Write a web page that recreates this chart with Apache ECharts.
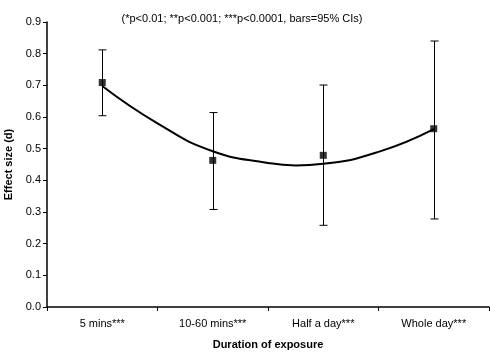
<!DOCTYPE html>
<html>
<head>
<meta charset="utf-8">
<script src="https://cdn.jsdelivr.net/npm/echarts@6/dist/echarts.min.js"></script>
<style>html,body{margin:0;padding:0;background:#fff}#c{width:490px;height:357px}</style>
</head>
<body>
<div id="c"></div>
<script>
var categories = ['5 mins***', '10-60 mins***', 'Half a day***', 'Whole day***'];
var effect = [0.709, 0.463, 0.479, 0.563];
var ciLow = [0.604, 0.308, 0.258, 0.278];
var ciHigh = [0.812, 0.614, 0.701, 0.840];
var trendX = [0, 0.5, 1, 1.5, 1.75, 2, 2.5, 3];
var trendY = [0.698, 0.580, 0.492, 0.455, 0.447, 0.452, 0.490, 0.562];
var yTicks = ['0.0','0.1','0.2','0.3','0.4','0.5','0.6','0.7','0.8','0.9'];
var titleText = '(*p<0.01; **p<0.001; ***p<0.0001, bars=95% CIs)';

var font = 'Liberation Sans, Arial, sans-serif';
var chart = echarts.init(document.getElementById('c'));
chart.setOption({
  animation: false,
  backgroundColor: '#fff',
  title: {
    text: titleText, left: 237, top: 8, textAlign: 'center',
    textStyle: {fontFamily: font, fontSize: 11, fontWeight: 'normal', color: '#000'}
  },
  grid: {left: 47, right: 1, top: 22, bottom: 50, containLabel: false, outerBoundsMode: 'none'},
  xAxis: [{
    type: 'category', data: categories, boundaryGap: true,
    axisLine: {lineStyle: {color: '#000', width: 1.5}},
    axisTick: {show: true, length: 4, lineStyle: {color: '#000'}},
    axisLabel: {fontFamily: font, fontSize: 11, color: '#000', margin: 11},
    name: 'Duration of exposure', nameLocation: 'middle', nameGap: 32,
    nameTextStyle: {fontFamily: font, fontSize: 11, fontWeight: 'bold', color: '#000'}
  }, {
    type: 'value', min: -0.5, max: 3.5, show: false
  }],
  yAxis: {
    type: 'value', min: 0, max: 0.9, interval: 0.1,
    splitLine: {show: false},
    axisLine: {show: true, onZero: false, lineStyle: {color: '#000', width: 1.5}},
    axisTick: {show: true, length: 4, lineStyle: {color: '#000'}},
    axisLabel: {fontFamily: font, fontSize: 11, color: '#000', margin: 6,
      formatter: function (v) { return yTicks[Math.round(v * 10)]; }},
    name: 'Effect size (d)', nameLocation: 'middle', nameGap: 31, nameRotate: 90,
    nameTextStyle: {fontFamily: font, fontSize: 11, fontWeight: 'bold', color: '#000'}
  },
  series: [{
    type: 'line', xAxisIndex: 1, smooth: true, symbol: 'none',
    lineStyle: {color: '#000', width: 2},
    data: trendX.map(function (x, i) { return [x, trendY[i]]; }),
    z: 2
  }, {
    type: 'custom', xAxisIndex: 0,
    data: categories.map(function (c, i) { return [i, ciLow[i], ciHigh[i]]; }),
    renderItem: function (params, api) {
      var lo = api.coord([api.value(0), api.value(1)]);
      var hi = api.coord([api.value(0), api.value(2)]);
      var x = Math.round(lo[0]) + 0.5;
      var st = {stroke: '#000', lineWidth: 1};
      return {type: 'group', children: [
        {type: 'line', shape: {x1: x, y1: lo[1], x2: x, y2: hi[1]}, style: st},
        {type: 'line', shape: {x1: x - 4, y1: lo[1], x2: x + 4, y2: lo[1]}, style: st},
        {type: 'line', shape: {x1: x - 4, y1: hi[1], x2: x + 4, y2: hi[1]}, style: st}
      ]};
    },
    z: 3
  }, {
    type: 'scatter', xAxisIndex: 0, symbol: 'rect', symbolSize: 7,
    itemStyle: {color: '#000'},
    data: effect, z: 4
  }]
});
</script>
</body>
</html>
